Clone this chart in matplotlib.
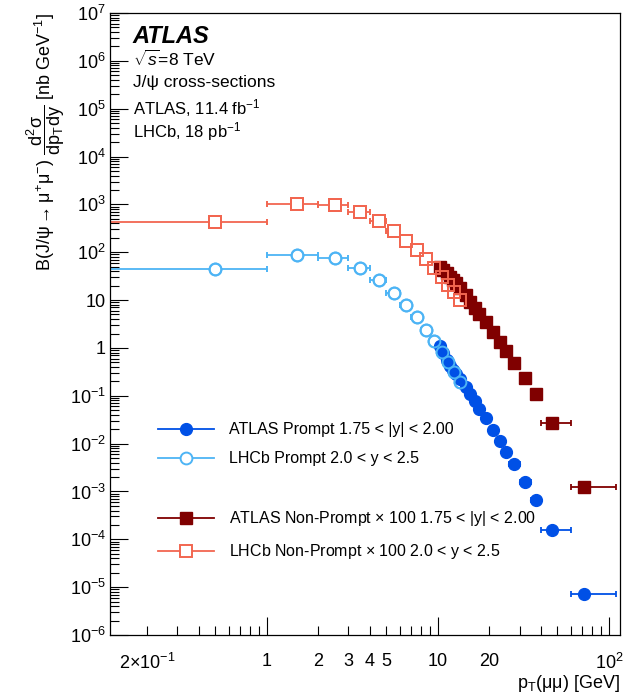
import numpy as np
import matplotlib.pyplot as plt
from matplotlib.lines import Line2D
from matplotlib.ticker import LogLocator, NullFormatter

plt.rcParams['font.family'] = ['Liberation Sans', 'DejaVu Sans']
plt.rcParams['mathtext.fontset'] = 'custom'
plt.rcParams['mathtext.rm'] = 'Liberation Sans'
plt.rcParams['mathtext.it'] = 'Liberation Sans:italic'
plt.rcParams['mathtext.bf'] = 'Liberation Sans:bold'
plt.rcParams['mathtext.sf'] = 'Liberation Sans'

# ATLAS, 1.75 < |y| < 2.00 (bin edges and plotted pT)
atlas_edges = [10, 10.5, 11, 11.5, 12, 12.5, 13, 14, 15, 16, 17, 18, 20, 22, 24, 26, 30, 35, 40, 60, 110]
atlas_pt = [10.25, 10.75, 11.25, 11.75, 12.25, 12.75, 13.5, 14.5, 15.5, 16.5, 17.5, 19, 21, 23, 25, 28,
            32.5, 37.5, 46.4, 71]
atlas_prompt = [1.1, 0.78, 0.56, 0.42, 0.34, 0.29, 0.22, 0.155, 0.11, 0.078, 0.053, 0.034, 0.019, 0.0113,
                0.0068, 0.0037, 0.0016, 6.6e-4, 1.58e-4, 7.2e-6]
atlas_nonprompt_x100 = [50, 42, 36, 31, 26, 22.5, 17.5, 12.5, 9.0, 6.8, 5.0, 3.5, 2.2, 1.35, 0.87, 0.49,
                        0.23, 0.11, 0.027, 1.25e-3]

# LHCb, 2.0 < y < 2.5
lhcb_edges = [0, 1, 2, 3, 4, 5, 6, 7, 8, 9, 10, 11, 12, 13, 14]
lhcb_pt = [0.5, 1.5, 2.5, 3.5, 4.5, 5.5, 6.5, 7.5, 8.5, 9.5, 10.5, 11.5, 12.5, 13.5]
lhcb_prompt = [44.7, 87.7, 74.7, 46.2, 26.7, 14.1, 7.76, 4.47, 2.37, 1.42, 0.84, 0.52, 0.32, 0.197]
lhcb_nonprompt_x100 = [428, 1010, 990, 703, 457, 278, 174, 111, 72, 46, 31, 20.7, 15.0, 10.0]

labels = ['ATLAS Prompt 1.75 < |y| < 2.00',
          'LHCb Prompt 2.0 < y < 2.5',
          r'ATLAS Non-Prompt $\times$ 100 1.75 < |y| < 2.00',
          r'LHCb Non-Prompt $\times$ 100 2.0 < y < 2.5']

y_ticks = [1e-6, 1e-5, 1e-4, 1e-3, 1e-2, 1e-1, 1, 10, 1e2, 1e3, 1e4, 1e5, 1e6, 1e7]
y_ticklabels = ['$10^{-6}$', '$10^{-5}$', '$10^{-4}$', '$10^{-3}$', '$10^{-2}$', '$10^{-1}$', '1', '10',
                '$10^{2}$', '$10^{3}$', '$10^{4}$', '$10^{5}$', '$10^{6}$', '$10^{7}$']
x_major = [1, 10, 100]
x_major_labels = ['1', '10', '$10^{2}$']
x_minor = [0.2, 0.3, 0.4, 0.5, 0.6, 0.7, 0.8, 0.9, 2, 3, 4, 5, 6, 7, 8, 9, 20, 30, 40, 50, 60, 70, 80, 90]
x_minor_labels = [r'$2{\times}10^{-1}$', '', '', '', '', '', '', '', '2', '3', '4', '5', '', '', '', '',
                  '20', '', '', '', '', '', '', '']

c_atlas_p = '#0050e6'
c_lhcb_p = '#4db4f5'
c_atlas_np = '#800000'
c_lhcb_np = '#f26650'


def xerrs(pt, edges):
    pt = np.array(pt)
    e = np.array(edges, dtype=float)
    return np.vstack([pt - e[:-1], e[1:] - pt])


fig = plt.figure(figsize=(6.26, 6.94), dpi=100)
ax = fig.add_axes([0.1757, 0.085, 0.8147, 0.8963])
ax.set_xscale('log')
ax.set_yscale('log')

ms = 8.5
ekw = dict(linestyle='none', capsize=2.5, elinewidth=1.3, capthick=1.3)

# ATLAS prompt
ax.errorbar(atlas_pt, atlas_prompt, xerr=xerrs(atlas_pt, atlas_edges), marker='o', ms=ms,
            color=c_atlas_p, zorder=3, **ekw)
# LHCb prompt (white fill hides the bar inside the marker, outline drawn again on top)
ax.errorbar(lhcb_pt, lhcb_prompt, xerr=xerrs(lhcb_pt, lhcb_edges), marker='o', ms=ms, mfc='white',
            mew=1.4, color=c_lhcb_p, zorder=2, **ekw)
ax.plot(lhcb_pt, lhcb_prompt, 'o', ms=ms, mfc='none', mew=1.4, color=c_lhcb_p, zorder=5)
# ATLAS non-prompt x100
ax.errorbar(atlas_pt, atlas_nonprompt_x100, xerr=xerrs(atlas_pt, atlas_edges), marker='s', ms=ms,
            color=c_atlas_np, zorder=3, **ekw)
# LHCb non-prompt x100
ax.errorbar(lhcb_pt, lhcb_nonprompt_x100, xerr=xerrs(lhcb_pt, lhcb_edges), marker='s', ms=ms, mfc='white',
            mew=1.4, color=c_lhcb_np, zorder=2, **ekw)
ax.plot(lhcb_pt, lhcb_nonprompt_x100, 's', ms=ms, mfc='none', mew=1.4, color=c_lhcb_np, zorder=5)

ax.set_xlim(0.121, 116)
ax.set_ylim(1e-6, 1e7)

ax.set_yticks(y_ticks, y_ticklabels)
ax.yaxis.set_minor_locator(LogLocator(base=10, subs=np.arange(2, 10), numticks=100))
ax.yaxis.set_minor_formatter(NullFormatter())
ax.set_xticks(x_major, x_major_labels)
ax.set_xticks(x_minor, x_minor_labels, minor=True)
ax.tick_params(which='both', direction='in', top=False, right=False, labelsize=13, width=0.8)
ax.tick_params(which='major', length=13)
ax.tick_params(which='minor', length=6.5)
ax.tick_params(axis='x', which='both', pad=13)
ax.tick_params(axis='y', which='both', pad=3)
for s in ax.spines.values():
    s.set_linewidth(0.9)

ax.set_xlabel(r'p$_{\mathrm{T}}$(μμ) [GeV]', fontsize=13, loc='right', labelpad=0)
ax.set_ylabel(r'B(J/ψ$\rightarrow\mathrm{\mu^{+}\mu^{-}}$) $\dfrac{\mathrm{d^{2}\sigma}}{\mathrm{dp_{T}dy}}$ [nb GeV$^{-1}$]',
              fontsize=13, loc='top', labelpad=2)

tx = 0.045
ax.text(tx, 0.9523, 'ATLAS', transform=ax.transAxes, fontsize=17, weight='bold', style='italic')
ax.text(tx, 0.9153, r'$\sqrt{s}$=8 TeV', transform=ax.transAxes, fontsize=12.5)
ax.text(tx, 0.8805, 'J/ψ cross-sections', transform=ax.transAxes, fontsize=12.5)
ax.text(tx, 0.8365, 'ATLAS, 11.4 fb$^{-1}$', transform=ax.transAxes, fontsize=12)
ax.text(tx, 0.8000, 'LHCb, 18 pb$^{-1}$', transform=ax.transAxes, fontsize=12)

handles = [
    Line2D([], [], color=c_atlas_p, marker='o', ms=ms, lw=1.3),
    Line2D([], [], color=c_lhcb_p, marker='o', ms=ms, mfc='white', mew=1.4, lw=1.3),
    Line2D([], [], linestyle='none'),
    Line2D([], [], color=c_atlas_np, marker='s', ms=ms, lw=1.3),
    Line2D([], [], color=c_lhcb_np, marker='s', ms=ms, mfc='white', mew=1.4, lw=1.3),
]
leg_labels = [labels[0], labels[1], ' ', labels[2], labels[3]]
ax.legend(handles, leg_labels, loc='upper left', bbox_to_anchor=(0.094, 0.342), frameon=False,
          fontsize=11.5, handlelength=3.5, handletextpad=0.95, labelspacing=0.88, borderpad=0,
          borderaxespad=0, numpoints=1)

fig.savefig('out.png', dpi=100)
